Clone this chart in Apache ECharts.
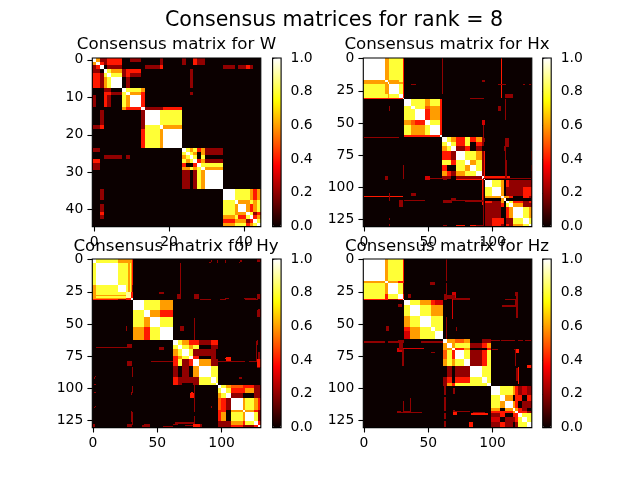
<!DOCTYPE html>
<html><head><meta charset="utf-8">
<style>html,body{margin:0;padding:0;background:#fff}#c{width:640px;height:480px}</style>
<script src="https://cdn.jsdelivr.net/npm/echarts@6/dist/echarts.min.js"></script>
</head><body><div id="c"></div>
<script>
// Values are in tenths of consensus (0..10). Rects: [row0,row1,col0,col1,value], mirrored across the diagonal.
const sizeW = 45, sizeH = 131;
const ticksW_x = [0,20,40], ticksW_y = [0,10,20,30,40];
const ticksH_x = [0,50,100], ticksH_y = [0,25,50,75,100,125];
const colorbarTicks = [0,0.2,0.4,0.6,0.8,1];

const rectsW = [
 [0,0,0,0,10],[0,0,1,1,6],[0,1,2,3,2],[0,1,4,7,4],[0,0,10,12,2],[0,1,18,18,2],[0,1,24,24,2],[0,1,27,27,4],[0,1,28,29,2],
 [1,1,1,1,10],[1,2,1,1,10],[1,2,2,2,4],[2,2,2,2,10],[1,1,2,2,4],[2,2,4,7,2],[2,2,14,17,2],[2,2,18,18,4],[2,2,35,37,2],[2,2,39,40,2],[2,2,41,41,4],[2,2,42,42,2],
 [3,3,0,1,2],[3,3,3,3,10],[3,3,4,4,7],[3,3,5,7,6],[3,3,8,8,2],[3,3,9,12,4],[3,7,26,26,2],
 [4,7,1,1,4],[4,7,2,2,2],[4,4,3,3,8],[5,7,3,3,6],[4,4,4,4,10],[4,4,5,7,8],[5,7,4,4,8],[5,7,5,7,10],[4,4,8,8,2],[4,4,9,12,2],[5,7,9,9,2],
 [8,8,3,4,2],[8,8,8,8,10],[8,8,9,12,8],[8,8,13,13,6],
 [9,9,3,4,4],[9,9,5,7,2],[9,9,9,9,10],[9,9,10,12,6],[9,9,13,13,4],[9,9,26,26,2],
 [10,12,0,0,2],[10,12,3,3,4],[10,12,4,4,2],[10,12,8,8,8],[10,12,9,9,6],[10,12,10,12,10],[10,12,13,13,4],
 [13,13,8,8,6],[13,13,9,12,4],[13,13,13,13,10],[13,13,14,18,2],[13,13,19,23,4],
 [14,17,2,2,2],[14,18,13,13,2],[14,17,14,17,10],[14,17,18,23,8],
 [18,18,0,1,2],[18,18,2,2,4],[18,18,18,18,10],[18,18,19,23,6],
 [19,23,13,13,4],[19,23,19,23,10],
 [24,24,0,1,2],[24,24,24,24,10],[24,24,25,25,8],[24,24,26,26,6],[24,24,27,27,8],[24,24,28,28,4],[24,24,29,29,6],[24,25,30,34,2],
 [25,25,25,25,10],[25,25,26,26,8],[25,25,27,27,6],[25,25,28,28,0],[25,25,29,29,6],
 [26,26,3,7,2],[26,26,9,9,2],[26,26,26,26,10],[26,26,27,27,8],[26,26,28,28,0],[26,26,29,29,8],
 [27,27,0,1,4],[27,27,27,27,10],[27,27,28,28,4],[27,27,29,29,6],[27,27,30,34,2],
 [28,29,0,1,2],[28,28,28,28,10],[28,28,29,29,8],[28,28,30,34,8],
 [29,29,29,29,10],[29,29,30,34,6],
 [30,34,24,25,2],[30,34,27,27,2],[30,34,30,34,10],
 [35,37,2,2,2],[35,37,35,37,10],[35,37,38,41,8],[35,37,42,42,6],[35,37,43,43,4],[35,37,44,44,6],
 [38,38,38,38,10],[38,38,39,41,6],[38,38,42,42,8],[38,38,43,43,4],[38,38,44,44,8],
 [39,40,2,2,2],[39,40,39,40,10],[39,40,41,41,6],[39,40,42,42,4],[39,40,43,43,6],[39,40,44,44,8],
 [41,41,2,2,4],[41,41,41,41,10],[41,41,42,42,8],[41,41,43,43,2],[41,41,44,44,4],
 [42,42,2,2,2],[35,37,42,42,6],[42,42,42,42,10],[42,42,43,43,4],[42,42,44,44,6],
 [43,43,43,43,10],[43,43,44,44,8],[44,44,44,44,10],
 [43,43,35,37,4],[43,43,38,40,6],[44,44,35,37,6],[44,44,38,40,8],[42,42,35,37,6],[42,42,38,38,8],[42,42,39,40,4]
];

const edgesHx = [[0,16],[17,18],[19,19],[20,27],[28,30],[31,31],
 [32,36],[37,39],[40,47],[48,51],[52,59],[60,60],
 [61,64],[65,67],[68,71],[72,78],[79,82],[83,87],[88,91],[92,93],[94,94],
 [95,99],[100,106],[107,108],[109,110],[111,112],[113,115],[116,123],[124,128],[129,130]];
const blocksHx = [
 [0,5,[10,6,6,8,8,4, 10,6,6,8,4, 10,6,6,4, 10,8,4, 10,4, 10]],
 [6,11,[10,8,8,6,8,4, 10,8,5,6,4, 10,4,6,4, 10,8,4, 10,4, 10]],
 [12,20,[10,8,6,4,8,4,6,2,0, 10,8,4,8,0,4,2,0, 10,2,4,0,2,0,0, 10,8,8,6,2,4, 10,6,8,2,4, 10,8,2,4, 10,2,4, 10,2, 10]],
 [21,29,[10,8,6,0,4,2,2,2,2, 10,6,0,2,2,2,4,4, 10,6,6,4,0,4,2, 10,0,0,0,0,0, 10,8,4,2,4, 10,6,2,2, 10,8,6, 10,8, 10]]
];
const rectsHx = [
 [0,27,61,61,2],[0,30,107,107,4],[28,30,110,115,2],[110,110,32,47,2],[17,18,92,94,2],[37,40,105,106,2],
 [31,31,83,93,2],[48,51,92,94,3],[93,93,52,62,2],[92,92,95,113,4],[94,94,72,78,4],[94,94,83,92,4],
 [62,68,110,112,2],[68,71,110,110,2],[79,92,111,111,2],[62,64,94,94,2],
 [110,110,62,66,2],[109,109,68,71,2],[110,110,72,92,2],[37,40,20,20,2],[106,106,37,40,2],[105,110,20,20,2],
 [20,20,124,125,2],[20,20,129,130,2],[130,130,62,64,2],[130,130,72,78,4],[130,130,83,87,4],[130,130,88,93,2],[93,130,93,93,2]
];

const edgesHy = [[0,2],[3,19],[20,25],[26,29],[30,31],
 [32,39],[40,44],[45,52],[53,62],
 [63,66],[67,69],[70,74],[75,77],[78,82],[83,91],[92,95],[96,97],
 [98,99],[100,103],[104,107],[108,116],[117,118],[119,125],[126,128],[129,130]];
const blocksHy = [
 [0,4,[10,8,6,6,4, 10,8,8,4, 10,8,2, 9,4, 10]],
 [5,8,[10,8,8,6, 10,6,4, 10,8, 10]],
 [9,16,[10,8,6,4,4,2,4,4, 10,8,6,8,0,2,2, 10,8,2,2,2,0, 10,4,0,2,0, 10,6,2,2, 10,8,8, 10,8, 10]],
 [17,24,[10,8,6,5,4,4,2,2, 10,8,4,4,6,2,2, 10,2,0,0,2,2, 10,6,8,6,4, 10,6,4,2, 10,8,2, 10,4, 10]]
];
const rectsHy = [
 [3,25,28,28,6],[0,25,30,30,6],
 [79,79,46,62,2],[79,79,98,118,2],[79,79,122,128,2],[68,68,3,26,2],[66,68,27,30,2],[79,82,27,30,2],[52,55,68,70,2],[52,55,26,26,2],
 [68,69,53,55,2],[26,26,53,55,2],[39,44,129,130,2],[1,1,92,92,2],[1,1,97,97,2],[1,1,103,103,2],[1,1,115,115,2],[1,1,128,130,2],
 [31,31,84,91,2],[31,31,99,103,2],[31,31,119,128,2],[28,30,129,130,4],[76,78,104,107,4],[63,66,128,128,2],[72,80,129,129,2],
 [103,105,30,30,2],[118,126,30,30,2],[128,130,27,30,2],[128,130,40,44,2],[130,130,55,62,2],[128,130,0,1,2],[127,127,64,78,2],
 [128,130,78,83,4],[103,105,77,77,4],[114,115,92,92,2],[91,91,2,2,2],[97,97,2,2,2],[103,103,2,2,2],[114,114,2,2,2],[84,84,128,130,2]
];

const edgesHz = [[0,16],[17,18],[19,26],[27,30],[31,31],
 [32,35],[36,43],[44,52],[53,55],[56,61],
 [62,64],[65,68],[69,70],[71,77],[78,82],[83,91],[92,95],[96,98],
 [99,105],[106,109],[110,115],[116,117],[118,119],[120,122],[123,126],[127,130]];
const blocksHz = [
 [0,4,[10,6,8,8,4, 10,6,4,4, 10,8,2, 10,4, 10]],
 [5,9,[10,8,6,4,3, 10,8,6,6, 10,8,8, 10,8, 10]],
 [10,17,[10,6,6,5,6,0,2,2, 10,6,8,8,2,4,6, 10,4,6,0,0,4, 10,8,2,4,8, 10,2,4,8, 10,8,8, 10,8, 10]],
 [18,25,[10,8,8,6,4,2,3,2, 10,6,0,4,4,0,4, 10,6,4,0,2,2, 10,6,4,2,0, 10,4,4,2, 10,8,8, 10,8, 10]]
];
const rectsHz = [
 [0,16,64,64,2],[19,26,64,64,2],[63,64,27,31,2],[69,71,26,31,3],[28,30,63,70,2],[30,30,71,82,2],[31,46,69,69,3],[36,36,108,118,2],[31,36,118,118,2],
 [64,64,45,61,2],[63,63,99,105,2],[63,63,107,117,2],[63,63,120,123,2],[63,63,126,130,2],[70,70,100,104,2],[70,70,117,119,2],[70,82,31,31,2],[110,119,31,31,2],[119,119,26,45,2],
 [119,120,70,72,4],[118,118,71,82,2],[120,120,84,96,4],[127,130,82,84,4],[72,72,53,55,2],[18,18,53,55,2],[52,55,18,19,2],
 [35,36,27,29,2],[85,94,119,119,2],[83,84,127,130,4],[26,28,118,118,2]
];

function hot(t){
  const c=v=>Math.round(Math.max(0,Math.min(1,v))*255);
  return 'rgb('+c(0.0416+t/0.365079*0.9584)+','+c((t-0.365079)/0.380953)+','+c((t-0.746032)/0.253968)+')';
}
const hotStops=[];for(let i=0;i<=64;i++)hotStops.push(hot(i/64));

function buildMatrix(n,edges,blocks,rects){
  const m=[];for(let i=0;i<n;i++)m.push(new Array(n).fill(0));
  const paint=(r0,r1,c0,c1,v)=>{for(let r=r0;r<=r1;r++)for(let c=c0;c<=c1;c++){m[r][c]=v;m[c][r]=v;}};
  (blocks||[]).forEach(([a,b,lv])=>{let k=0;for(let i=a;i<=b;i++)for(let j=i;j<=b;j++){
     const e1=edges[i],e2=edges[j];const v=lv[k++];paint(e1[0],e1[1],e2[0],e2[1],v);}});
  (rects||[]).forEach(r=>paint(...r));
  return m;
}
// zero cells show the grid background (hot(0)), the rest are drawn as cells
function cells(m){const d=[];m.forEach((row,r)=>row.forEach((v,c)=>{if(v>0)d.push([c,r,v/10]);}));return d;}

function renderCell(params,api){
  const c=api.coord([api.value(0),api.value(1)]),s=api.size([1,1]);
  const x0=Math.round(c[0]-s[0]/2),x1=Math.round(c[0]+s[0]/2),y0=Math.round(c[1]-s[1]/2),y1=Math.round(c[1]+s[1]/2);
  return {type:'rect',shape:{x:x0,y:y0,width:x1-x0,height:y1-y0},style:{fill:api.visual('color')}};
}

const panels=[
 {t:'Consensus matrix for W',m:buildMatrix(sizeW,null,null,rectsW),n:sizeW,xt:ticksW_x,yt:ticksW_y,l:92.3,top:58,tc:176.5,tt:36,cb:272.6},
 {t:'Consensus matrix for Hx',m:buildMatrix(sizeH,edgesHx,blocksHx,rectsHx),n:sizeH,xt:ticksH_x,yt:ticksH_y,l:363.3,top:58,tc:447,tt:36,cb:542.7},
 {t:'Consensus matrix for Hy',m:buildMatrix(sizeH,edgesHy,blocksHy,rectsHy),n:sizeH,xt:ticksH_x,yt:ticksH_y,l:92.3,top:259,tc:176,tt:238,cb:272.6},
 {t:'Consensus matrix for Hz',m:buildMatrix(sizeH,edgesHz,blocksHz,rectsHz),n:sizeH,xt:ticksH_x,yt:ticksH_y,l:363.3,top:259,tc:447,tt:238,cb:542.7}
];
const W=168.5,H=168.6,FONT='"DejaVu Sans"',FS=13.9;
const opt={animation:false,backgroundColor:'#fff',
 title:[{text:'Consensus matrices for rank = 8',left:334,top:10,textAlign:'center',padding:0,
   textStyle:{fontFamily:FONT,fontSize:20.6,fontWeight:'normal',color:'#000'}}],
 grid:[],xAxis:[],yAxis:[],series:[],visualMap:[]};
const tick={show:true,length:4.9,lineStyle:{color:'#000',width:1.1}};
const backgrounds=[];
panels.forEach((p,i)=>{
 opt.title.push({text:p.t,left:p.tc,top:p.tt,textAlign:'center',padding:0,z:10,
   textStyle:{fontFamily:FONT,fontSize:16.67,fontWeight:'normal',color:'#000'}});
 const cats=[];for(let k=0;k<p.n;k++)cats.push(String(k));
 const g=opt.grid.length;
 opt.grid.push({left:p.l,top:p.top,width:W,height:H,show:true,backgroundColor:'transparent',borderColor:'#000',borderWidth:1.1,z:3});
 backgrounds.push({left:p.l,top:p.top,width:W,height:H,show:true,backgroundColor:hot(0),borderWidth:0,z:0});
 const mk=(arr,extra)=>Object.assign({type:'category',data:cats,gridIndex:g,boundaryGap:true,
   axisLine:{show:false},splitLine:{show:false},z:3,
   axisTick:Object.assign({},tick,{alignWithLabel:true,interval:(idx)=>arr.includes(idx)}),
   axisLabel:{show:true,interval:(idx)=>arr.includes(idx),color:'#000',fontFamily:FONT,fontSize:FS,margin:9,hideOverlap:false}},extra);
 opt.xAxis.push(mk(p.xt,{position:'bottom'}));
 opt.yAxis.push(mk(p.yt,{inverse:true,position:'left'}));
 opt.series.push({type:'custom',xAxisIndex:g,yAxisIndex:g,data:cells(p.m),renderItem:renderCell,encode:{x:0,y:1},
   progressive:0,animation:false,silent:true,clip:true,z:2});
 opt.visualMap.push({type:'continuous',seriesIndex:opt.series.length-1,dimension:2,min:0,max:1,
   left:p.cb,top:p.top+0.2,itemWidth:8.5,itemHeight:168.2,padding:0,text:null,calculable:false,realtime:false,
   showLabel:false,hoverLink:false,z:1,inRange:{color:hotStops},textStyle:{fontSize:0}});
 const g2=opt.grid.length;
 opt.grid.push({left:p.cb,top:p.top,width:8.5,height:H,show:true,backgroundColor:'transparent',borderColor:'#000',borderWidth:1.1,z:3});
 opt.xAxis.push({type:'value',gridIndex:g2,show:false,min:0,max:1});
 opt.yAxis.push({type:'value',gridIndex:g2,min:0,max:1,interval:0.2,position:'right',axisLine:{show:false},splitLine:{show:false},
   axisTick:tick,axisLabel:{color:'#000',fontFamily:FONT,fontSize:FS,margin:9.5,formatter:v=>colorbarTicks.includes(+v.toFixed(1))?v.toFixed(1):''}});
});
opt.grid=opt.grid.concat(backgrounds);
const chart=echarts.init(document.getElementById('c'),null,{renderer:'canvas'});
chart.setOption(opt);
</script></body></html>
